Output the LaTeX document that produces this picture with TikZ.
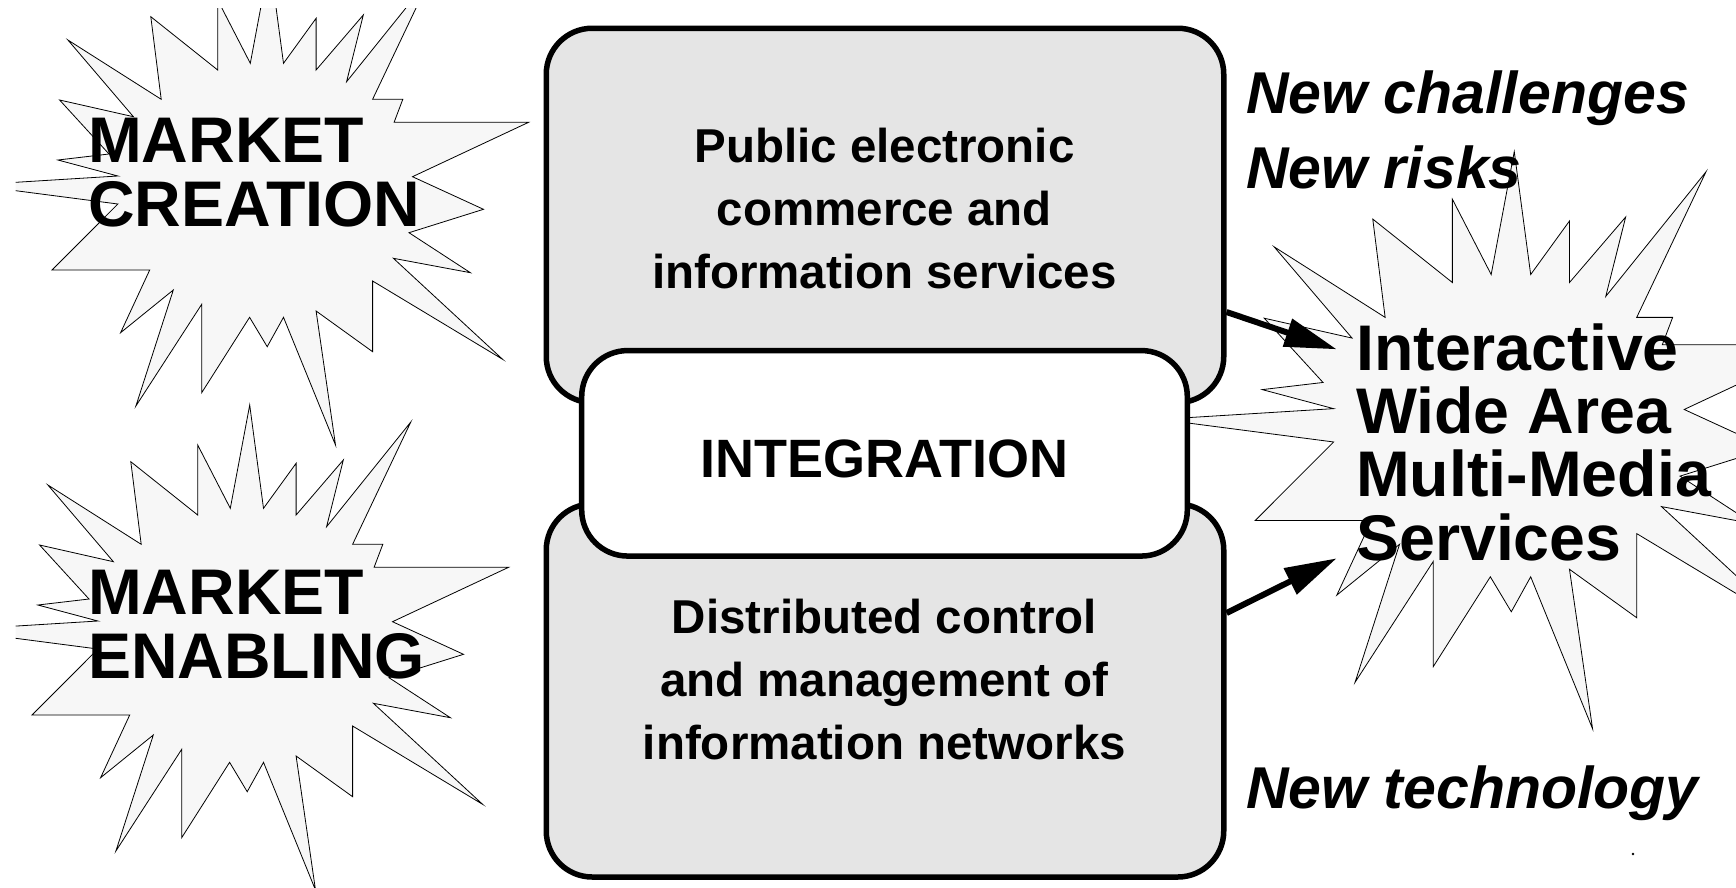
\documentclass[tikz,border=0pt]{standalone}
\usepackage{fontspec}
\setmainfont{Liberation Sans}
\usetikzlibrary{arrows.meta}

\tikzset{
  starburst/.pic = {
    \draw [burstline] (150.8,16.7) -- (217.7,70) -- (217.7,0) -- (250.3,63.3) -- (269.7,-40)
      -- (283.5,63.3) -- (316.1,18.3) -- (316.1,70) -- (363.3,15) -- (346.6,81.7) -- (430.8,-23)
      -- (372.6,99.3) -- (402.8,99.3) -- (394.1,122.3) -- (528.6,122.3) -- (412.5,176.7)
      -- (483.5,209.3) -- (409,232.7) -- (470.4,272.7) -- (393.4,258.3) -- (502.6,359.3)
      -- (372.6,281) -- (372.6,351.7) -- (316.1,311) -- (335.5,445) -- (283.5,317.3)
      -- (267.2,346.7) -- (249.6,317.3) -- (201.7,392.7) -- (201.7,304.3) -- (135.9,406)
      -- (173.3,290) -- (120.6,332.7) -- (149.7,270) -- (52,270) -- (117.9,204) -- (-28,185)
      -- (117.9,176) -- (57.9,160) -- (109,154) -- (59.6,100) -- (133.4,116.7) -- (67.9,40)
      -- (161.2,99.3) -- cycle;
  }
}

\begin{document}
\begin{tikzpicture}[x = 1pt, y = -1pt,
    burstline/.style = {draw = black, line width = 0.8pt, fill = black!3},
    gbox/.style = {draw, line width = 5.5pt, rounded corners = 46pt, fill = black!10, inner sep = 0pt},
    wbox/.style = {gbox, fill = white},
    boxtext/.style = {align = center, inner sep = 0pt, font = \bfseries\fontsize{47.5}{63}\selectfont},
    bigtext/.style = {align = left, inner sep = 0pt, font = \bfseries\fontsize{64.5}{63.2}\selectfont},
    newtext/.style = {align = left, inner sep = 0pt, font = \bfseries\itshape\fontsize{59}{75}\selectfont},
    link/.style = {line width = 6pt, -{Triangle[length = 52pt, width = 28pt]}}]
		\fill [white] (0, 0) rectangle (1736, 887);
		\useasboundingbox (0, 0) rectangle (1736, 887);
		%%%%%%%%%%%%%
		\begin{scope}
			\clip (15.5, 8.5) rectangle (1736, 887);
			\pic at (0, 0) {starburst};
			\pic at (-20, 445) {starburst};
			\pic [scale = 1.19] at (1193.3, 199.2) {starburst};
		\end{scope}
		%%%%%%%%%%%%%
		\node [gbox, minimum width = 677.5pt, minimum height = 374.3pt] (pub) at (885, 215.4) {};
		\node [gbox, minimum width = 677.5pt, minimum height = 373pt] (dist) at (885, 690.5) {};
		\node [wbox, minimum width = 605.6pt, minimum height = 205.5pt] (integ) at (884.5, 453.3) {};
		%%%%%%%%%%%%%
		\node [boxtext, anchor = base] (pubtxt) at (884.4, 288) {Public electronic\\commerce and\\information services};
		\node [boxtext, anchor = base, font = \bfseries\fontsize{54}{63}\selectfont] (integtxt) at (884.5, 477) {INTEGRATION};
		\node [boxtext, anchor = base] (disttxt) at (884.4, 759.5) {Distributed control\\and management of\\information networks};
		\node [bigtext, anchor = base west] (creation) at (88, 226) {MARKET\\CREATION};
		\node [bigtext, anchor = base west] (enabling) at (88, 678) {MARKET\\ENABLING};
		\node [bigtext, anchor = base west] (iwams) at (1356, 560) {Interactive\\Wide Area\\Multi-Media\\Services};
		\node [newtext, anchor = base west] (challenges) at (1246, 188.3) {New challenges\\New risks};
		\node [newtext, anchor = base west] (technology) at (1246, 808.3) {New technology};
		%%%%%%%%%%%%%
		\coordinate (hitA) at (1336.7, 349.3);
		\coordinate (hitB) at (1336.7, 558.3);
		\draw [link] ([yshift = -96.6pt]pub.east) to (hitA);
		\draw [link] ([yshift = 77.5pt]dist.east) to (hitB);
		\fill (1633, 854) circle (1.3pt);
\end{tikzpicture}
\end{document}
